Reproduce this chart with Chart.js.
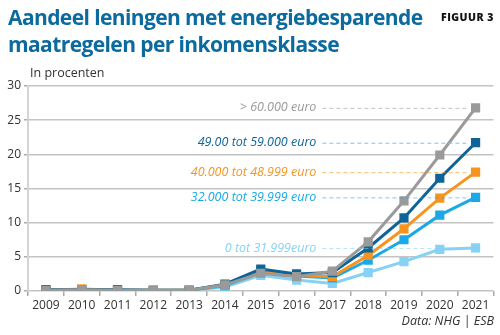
<!DOCTYPE html>
<html><head><meta charset="utf-8">
<script src="https://cdn.jsdelivr.net/npm/chart.js@4"></script>
<style>
html,body{margin:0;padding:0;background:#fff;}
#wrap{position:relative;width:500px;height:335px;overflow:hidden;font-family:"Open Sans",sans-serif;}
#title{position:absolute;left:8px;top:4px;font-family:"Open Sans",sans-serif;font-weight:700;font-size:21px;line-height:27px;color:#0b6a9e;letter-spacing:-0.6px;}
#fig{position:absolute;right:6px;top:10px;font-family:"Open Sans",sans-serif;font-weight:800;font-size:10.5px;color:#111;letter-spacing:0.5px;}
#sub{position:absolute;left:30px;top:64px;font-size:12.5px;color:#333;}
#src{position:absolute;right:6px;top:312px;font-size:12.5px;font-style:italic;color:#333;}
canvas{position:absolute;left:0;top:0;}
</style></head><body>
<div id="wrap">
<canvas id="c" width="500" height="335"></canvas>
<div id="title">Aandeel leningen met energiebesparende<br>maatregelen per inkomensklasse</div>
<div id="fig">FIGUUR 3</div>
<div id="sub">In procenten</div>
<div id="src">Data: NHG | ESB</div>
</div>
<script>
const years = ["2009","2010","2011","2012","2013","2014","2015","2016","2017","2018","2019","2020","2021"];
const yTicks = [0,5,10,15,20,25,30];
const seriesNames = ["> 60.000 euro","49.00 tot 59.000 euro","40.000 tot 48.999 euro","32.000 tot 39.999 euro","0 tot 31.999euro"];
const above60 = [0.1,0.2,0.1,0.1,0.1,0.9,2.6,2.1,2.9,7.2,13.2,19.9,26.8];
const from49 = [0.2,0.2,0.2,0.1,0.1,1.0,3.2,2.5,2.7,6.3,10.7,16.5,21.7];
const from40 = [0.1,0.3,0.1,0.1,0.1,0.9,3.0,2.3,2.1,5.2,9.1,13.6,17.4];
const from32 = [0.1,0.2,0.1,0.1,0.1,0.8,2.7,2.2,1.9,4.5,7.5,11.1,13.7];
const upto32 = [0.1,0.1,0.1,0.0,0.1,0.6,2.3,1.6,1.1,2.7,4.3,6.1,6.3];
const colors = ["#9a9a9a","#0e6498","#f7941d","#1aa9e6","#86d2f5"];
const allSeries = [above60,from49,from40,from32,upto32];

const labelPlugin = {
  id:'endLabels',
  afterDatasetsDraw(chart){
    const ctx = chart.ctx, xs = chart.scales.x, ys = chart.scales.y;
    ctx.save();
    ctx.font = 'italic 12.5px "Open Sans", sans-serif';
    ctx.textAlign = 'right'; ctx.textBaseline = 'middle';
    const last = years.length-1;
    const labelRight = xs.getPixelForValue(8) - 16;
    allSeries.forEach((s,i)=>{
      const y = ys.getPixelForValue(s[last]);
      ctx.fillStyle = colors[i];
      ctx.fillText(seriesNames[i], labelRight, y);
      ctx.strokeStyle = i===1 ? '#7cc6ea' : colors[i];
      ctx.globalAlpha = i===1 ? 1 : 0.6;
      ctx.lineWidth = 1;
      ctx.setLineDash([4,3]);
      ctx.beginPath();
      ctx.moveTo(labelRight+6, y+0.5);
      ctx.lineTo(xs.getPixelForValue(last)-9, y+0.5);
      ctx.stroke();
      ctx.setLineDash([]);
      ctx.globalAlpha = 1;
    });
    ctx.restore();
  }
};

new Chart(document.getElementById('c'), {
  type:'line',
  data:{
    labels: years,
    datasets: allSeries.map((s,i)=>({
      label: seriesNames[i], data: s,
      borderColor: colors[i], backgroundColor: colors[i],
      borderWidth: 3, pointStyle:'rect', pointRadius:6.5, pointHoverRadius:6.5,
      pointBorderWidth:0, tension:0
    }))
  },
  options:{
    responsive:false, animation:false, devicePixelRatio:1,
    layout:{padding:{top:86,right:5,bottom:24,left:0}},
    plugins:{legend:{display:false},tooltip:{enabled:false}},
    scales:{
      x:{
        offset:true,
        grid:{offset:true, drawOnChartArea:true, tickLength:5,
          color:(c)=> c.index===years.length ? '#c8c8c8' : 'rgba(0,0,0,0)',
          tickColor:'#aaaaaa', lineWidth:1.5},
        border:{display:false},
        ticks:{color:'#333', font:{family:'"Open Sans", sans-serif', size:12}, padding:2, maxRotation:0, autoSkip:false},
        afterFit:(s)=>{s.height=20;}
      },
      y:{
        min:0, max:30,
        afterBuildTicks:(s)=>{s.ticks = yTicks.map(v=>({value:v}));},
        grid:{color:'#c4c4c4', lineWidth:1.5, tickLength:4, tickColor:'#aaaaaa'},
        border:{display:true, color:'#d4d4d4', width:2},
        ticks:{color:'#333', font:{family:'"Open Sans", sans-serif', size:12}, padding:3},
        afterFit:(s)=>{s.width=28;}
      }
    }
  },
  plugins:[labelPlugin]
});
</script>
</body></html>
